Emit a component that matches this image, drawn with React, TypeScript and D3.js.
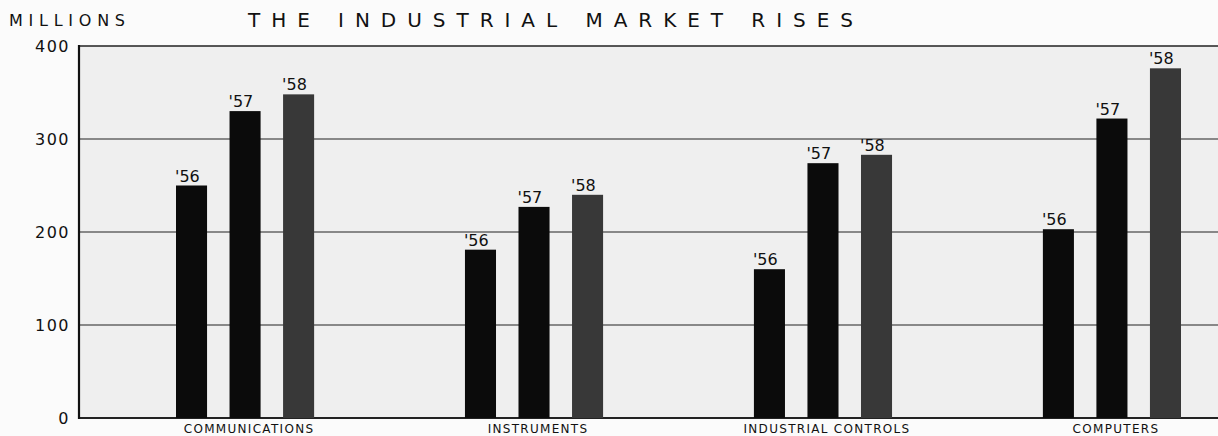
import React from "react";
import * as d3 from "d3";

const categories = ["COMMUNICATIONS", "INSTRUMENTS", "INDUSTRIAL CONTROLS", "COMPUTERS"];
const years = ["'56", "'57", "'58"];
const values56 = [250, 181, 160, 203];
const values57 = [330, 227, 274, 322];
const values58 = [348, 240, 283, 376];
const yTicks = [0, 100, 200, 300, 400];
const title = "THE INDUSTRIAL MARKET RISES";
const unitLabel = "MILLIONS";

const W = 1218;
const H = 436;
const FONT = "'DejaVu Sans', 'Liberation Sans', sans-serif";

export default function App() {
  const series = [values56, values57, values58];
  const plotLeft = 79;
  const plotRight = W;
  const y = d3.scaleLinear().domain([0, 400]).range([418, 46]);
  const x0 = d3.scaleBand<string>().domain(categories).range([176, 1181]).paddingInner(0.522).paddingOuter(0);
  const x1 = d3.scaleBand<string>().domain(years).range([0, x0.bandwidth()]).paddingInner(0.42).paddingOuter(0);
  const colors = ["#0b0b0b", "#0b0b0b", "#383838"];

  return (
    <svg width={W} height={H} style={{ position: "absolute", left: 0, top: 0, background: "#fbfbfb" }}>
      <rect x={plotLeft} y={y(400)} width={plotRight - plotLeft} height={y(0) - y(400)} fill="#efefef" />
      {yTicks.map((t) => (
        <line
          key={"g" + t}
          x1={plotLeft}
          x2={plotRight}
          y1={y(t)}
          y2={y(t)}
          stroke="#222"
          strokeWidth={t === 0 ? 2.2 : t === 400 ? 1.6 : 1.2}
        />
      ))}
      <line x1={plotLeft} x2={plotLeft} y1={y(400) - 1} y2={y(0) + 1} stroke="#111" strokeWidth={2.2} />
      {yTicks.map((t) => (
        <text
          key={"t" + t}
          x={70}
          y={y(t)}
          dy="0.36em"
          textAnchor="end"
          fontFamily={FONT}
          fontSize={16}
          letterSpacing={1.5}
          fill="#111"
        >
          {t}
        </text>
      ))}
      {categories.map((c, ci) => (
        <g key={c} transform={`translate(${x0(c)},0)`}>
          {years.map((yr, yi) => {
            const v = series[yi][ci];
            const bx = x1(yr)!;
            return (
              <g key={yr}>
                <rect x={bx} y={y(v)} width={x1.bandwidth()} height={y(0) - y(v)} fill={colors[yi]} />
                <text x={bx - 1} y={y(v) - 4} fontFamily={FONT} fontSize={16} fill="#111">
                  {yr}
                </text>
              </g>
            );
          })}
          <text
            x={x0.bandwidth() / 2 + 4}
            y={433}
            textAnchor="middle"
            fontFamily={FONT}
            fontSize={12}
            letterSpacing={1.3}
            fill="#111"
          >
            {c}
          </text>
        </g>
      ))}
      <text x={248} y={27} fontFamily={FONT} fontSize={20} textLength={605} lengthAdjust="spacing" fill="#111">
        {title}
      </text>
      <text x={9} y={26} fontFamily={FONT} fontSize={16} textLength={116} lengthAdjust="spacing" fill="#111">
        {unitLabel}
      </text>
    </svg>
  );
}
